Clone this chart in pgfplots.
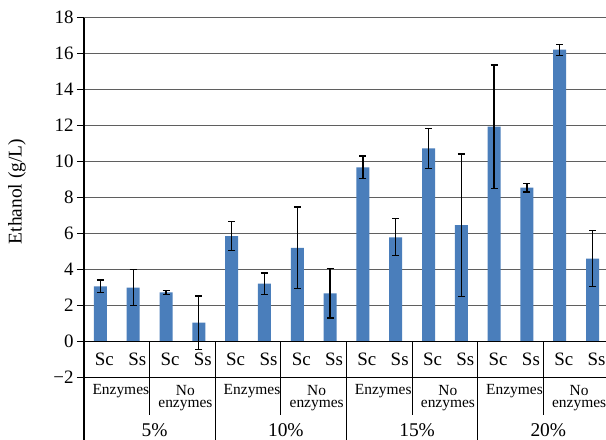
\documentclass[border=0pt]{standalone}
\usepackage{fontspec}
\setmainfont{Liberation Serif}
\usepackage{pgfplots}
\usepackage{pgfplotstable}
\pgfplotsset{compat=1.18}
\definecolor{barblue}{RGB}{74,126,187}
\definecolor{gridgray}{RGB}{95,95,95}
\pgfplotstableread{
x y err
0 3.08 0.35
1 3.00 1.00
2 2.74 0.11
3 1.06 1.48
4 5.87 0.80
5 3.22 0.59
6 5.21 2.27
7 2.69 1.37
8 9.69 0.62
9 5.80 1.03
10 10.74 1.10
11 6.47 3.95
12 11.95 3.42
13 8.56 0.24
14 16.22 0.31
15 4.61 1.56
}\datatable
\begin{document}
\begin{tikzpicture}
\begin{axis}[
  scale only axis, width=522bp, height=360bp,
  xmin=-0.5, xmax=15.41, ymin=-2, ymax=18,
  ytick={-2,0,...,18},
  yticklabels={−2,0,2,4,6,8,10,12,14,16,18},
  xtick=\empty,
  axis x line*=bottom, axis y line*=left,
  axis line style={-, black, line width=1.3bp},
  ymajorgrids, grid style={line width=1.1bp, gridgray},
  tick align=outside, major tick length=7bp,
  ytick style={black, line width=1.1bp},
  tick label style={font=\fontsize{19}{22}\selectfont},
  clip=false,
  ybar, bar width=13bp,
]
\addplot[fill=barblue, draw=none,
  error bars/.cd, y dir=both, y explicit,
  error bar style={line width=1.3bp, black},
  error mark options={line width=1.3bp, mark size=3.5bp, black, rotate=90}]
  table[x=x, y=y, y error=err]{\datatable};
\draw[black, line width=1.1bp] (axis cs:-0.5,0) -- (axis cs:15.41,0);
% y label
\node[rotate=90, font=\fontsize{19.5}{22}\selectfont, anchor=center] at ([xshift=-67bp]axis cs:-0.5,8.34) {Ethanol (g/L)};
% separators
\pgfplotsinvokeforeach{1.5,5.5,9.5,13.5}{
  \draw[black, line width=1.1bp] (axis cs:#1,0) -- (axis cs:#1,-4.07);
}
\pgfplotsinvokeforeach{3.5,7.5,11.5}{
  \draw[black, line width=1.1bp] (axis cs:#1,0) -- (axis cs:#1,-5.46);
}
\draw[black, line width=1.3bp] (axis cs:-0.5,-2) -- (axis cs:-0.5,-5.46);
% level 1 labels
\pgfplotsinvokeforeach{0,2,4,6,8,10,12,14}{
  \node[font=\fontsize{19}{22}\selectfont, anchor=center, xshift=4bp] at (axis cs:#1,-1) {Sc};
}
\pgfplotsinvokeforeach{1,3,5,7,9,11,13,15}{
  \node[font=\fontsize{19}{22}\selectfont, anchor=center, xshift=4bp] at (axis cs:#1,-1) {Ss};
}
% level 2 labels
\pgfplotsinvokeforeach{0.5,4.5,8.5,12.5}{
  \node[font=\fontsize{15.5}{17}\selectfont, anchor=base, inner sep=0pt, xshift=4bp] at (axis cs:#1,-2.906) {Enzymes};
}
\pgfplotsinvokeforeach{2.5,6.5,10.5,14.5}{
  \node[font=\fontsize{15.5}{12.7}\selectfont, align=center, anchor=north, inner sep=0pt, xshift=3bp] at (axis cs:#1,-2.39) {No\\enzymes};
}
% level 3 labels
\node[font=\fontsize{19.5}{22}\selectfont, anchor=base, inner sep=0pt, xshift=5bp] at (axis cs:1.5,-5.26) {5\%};
\node[font=\fontsize{19.5}{22}\selectfont, anchor=base, inner sep=0pt, xshift=5bp] at (axis cs:5.5,-5.26) {10\%};
\node[font=\fontsize{19.5}{22}\selectfont, anchor=base, inner sep=0pt, xshift=5bp] at (axis cs:9.5,-5.26) {15\%};
\node[font=\fontsize{19.5}{22}\selectfont, anchor=base, inner sep=0pt, xshift=5bp] at (axis cs:13.5,-5.26) {20\%};
\coordinate (bbl) at (axis cs:-0.5,-5.46);
\coordinate (btr) at (axis cs:15.41,18);
\end{axis}
\pgfresetboundingbox
\path ([xshift=-84bp]bbl) rectangle ([yshift=17.7bp]btr);
\end{tikzpicture}
\end{document}
